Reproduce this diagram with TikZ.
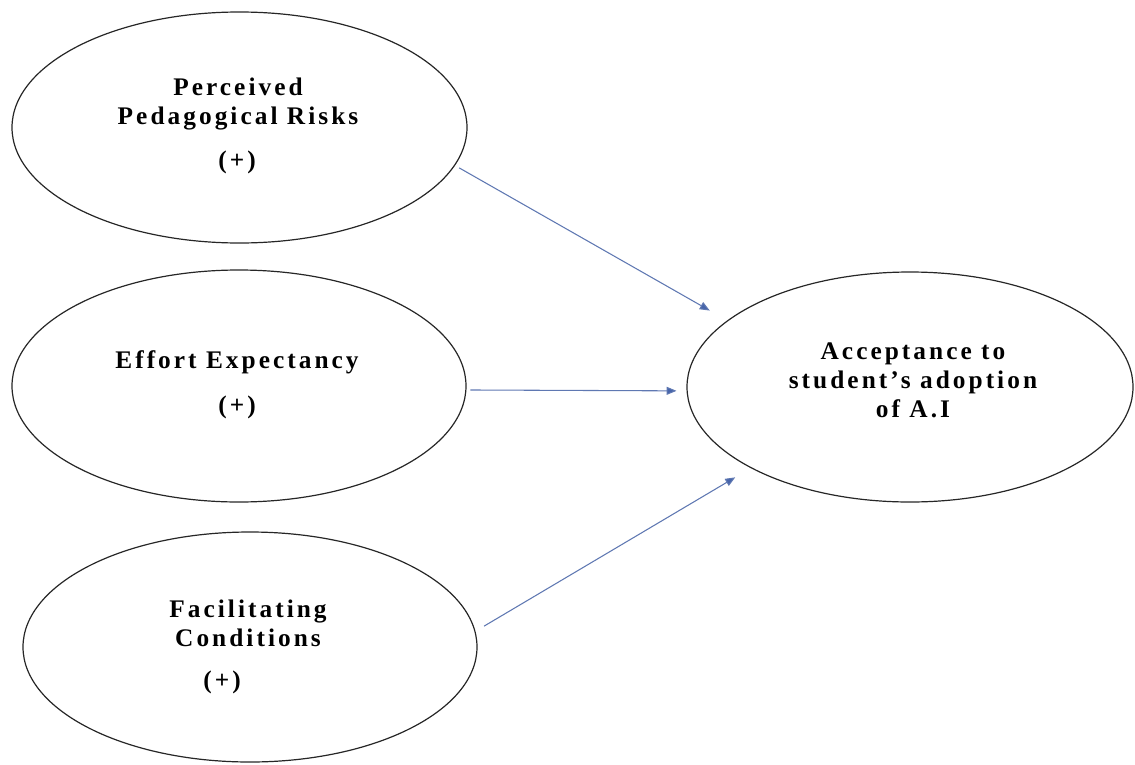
\documentclass[tikz,border=0pt]{standalone}
\usepackage{fontspec}
\setmainfont{Liberation Serif}
\usetikzlibrary{shapes.geometric,arrows.meta}
\definecolor{linkblue}{RGB}{95,120,178}
\definecolor{headblue}{RGB}{70,100,170}
\begin{document}
\begin{tikzpicture}[x=0.75pt,y=-0.75pt,
  construct/.style={draw=black!85, line width=0.9pt, ellipse, inner sep=0pt},
  lbl/.style={font=\fontsize{19}{21.75}\selectfont\bfseries\addfontfeature{LetterSpace=12}, align=center, inner sep=0pt},
  link/.style={draw=linkblue, line width=0.8pt, -{Triangle[length=7.5pt,width=6pt,fill=headblue]}}]
\useasboundingbox (0,0) rectangle (1135,764);
\node[construct, minimum width=455*0.75pt, minimum height=231*0.75pt] (e1) at (239.5,127.5) {};
\node[construct, minimum width=454*0.75pt, minimum height=232*0.75pt] (e2) at (239,386) {};
\node[construct, minimum width=454*0.75pt, minimum height=230*0.75pt] (e3) at (250,647) {};
\node[construct, minimum width=446*0.75pt, minimum height=230*0.75pt] (e4) at (910,387) {};

\node[lbl] (t1) at (238,104) {Perceived\\Pedagogical Risks};
\node[lbl] (p1) at (237,162) {(+)};
\node[lbl] (t2) at (237,362) {Effort Expectancy};
\node[lbl] (p2) at (237,407) {(+)};
\node[lbl] (t3) at (248,623) {Facilitating\\Conditions};
\node[lbl] (p3) at (222,682) {(+)};
\node[lbl] (t4) at (913,380) {Acceptance to\\student’s adoption\\of A.I};

\draw[link, shorten <=3.6pt, shorten >=15pt] (e1.-10) -- (e4.160);
\draw[link, shorten <=3pt, shorten >=7.5pt] (e2.-1) -- (e4.181);
\draw[link, shorten <=7.5pt, shorten >=13.5pt] (e3.4) -- (e4.207.5);
\end{tikzpicture}
\end{document}
